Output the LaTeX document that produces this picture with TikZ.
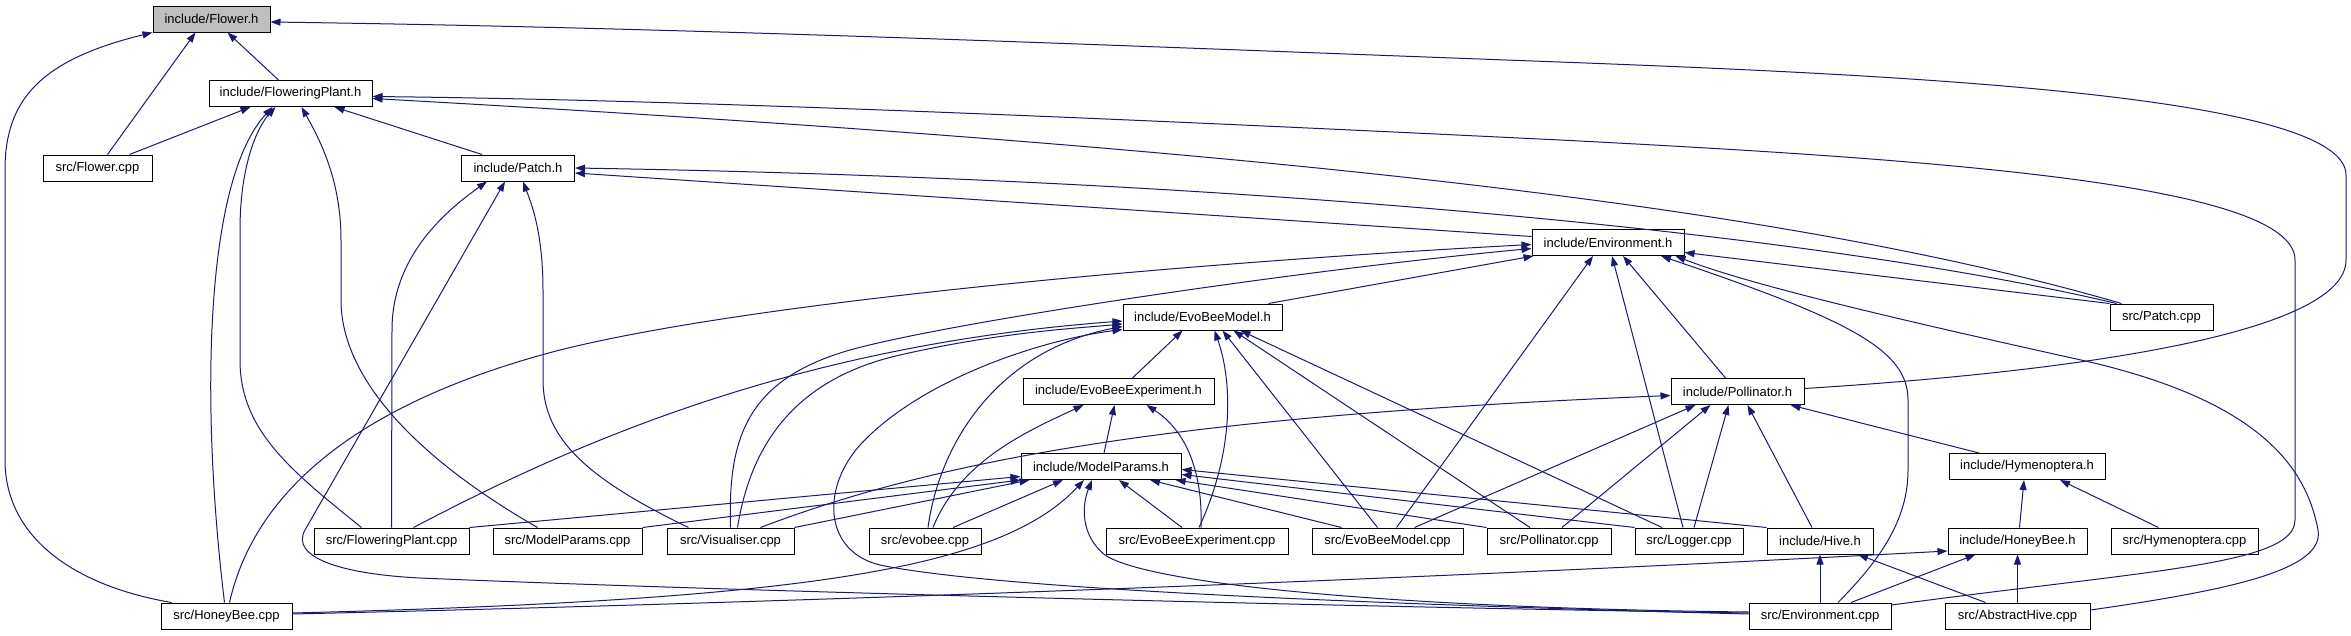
\documentclass[tikz,border=0pt]{standalone}
\usepackage{fontspec}
\setmainfont{Liberation Sans}
\usepackage{tikz}
\usetikzlibrary{arrows.meta}
\definecolor{edgeblue}{HTML}{191970}
\definecolor{rootgrey}{HTML}{BFBFBF}

\begin{document}
\begin{tikzpicture}[
  x=1pt, y=-1pt,
  font=\fontsize{13}{15}\selectfont,
  file/.style={draw, line width=1pt, fill=white, minimum height=26pt, inner sep=0pt},
  dep/.style={draw=edgeblue, line width=1pt, -{Triangle[length=10pt,width=7pt]}},
]
  \useasboundingbox (0,0) rectangle (2351,635);

  % Header files
  \node[file, fill=rootgrey, minimum width=117pt] (flowerh) at (211.5,19) {include/Flower.h};
  \node[file, minimum width=163pt] (floweringplanth) at (290.5,93.5) {include/FloweringPlant.h};
  \node[file, minimum width=113pt] (patchh) at (518,168) {include/Patch.h};
  \node[file, minimum width=152pt] (environmenth) at (1608,242.5) {include/Environment.h};
  \node[file, minimum width=159pt] (evobeemodelh) at (1202.5,317) {include/EvoBeeModel.h};
  \node[file, minimum width=191pt] (evobeeexperimenth) at (1118.5,391.5) {include/EvoBeeExperiment.h};
  \node[file, minimum width=133pt] (pollinatorh) at (1737.5,391.5) {include/Pollinator.h};
  \node[file, minimum width=160pt] (modelparamsh) at (1101,466.5) {include/ModelParams.h};
  \node[file, minimum width=156pt] (hymenopterah) at (2027,466.5) {include/Hymenoptera.h};
  \node[file, minimum width=106pt] (hiveh) at (1820,541) {include/Hive.h};
  \node[file, minimum width=139pt] (honeybeeh) at (2017.5,541) {include/HoneyBee.h};

  % Source files
  \node[file, minimum width=109pt] (flowercpp) at (97.5,168) {src/Flower.cpp};
  \node[file, minimum width=103pt] (patchcpp) at (2161.5,317) {src/Patch.cpp};
  \node[file, minimum width=155pt] (floweringplantcpp) at (391.5,541) {src/FloweringPlant.cpp};
  \node[file, minimum width=149pt] (modelparamscpp) at (567.5,541) {src/ModelParams.cpp};
  \node[file, minimum width=127pt] (visualisercpp) at (730.5,541) {src/Visualiser.cpp};
  \node[file, minimum width=112pt] (evobeecpp) at (925,541) {src/evobee.cpp};
  \node[file, minimum width=182pt] (evobeeexperimentcpp) at (1197,541) {src/EvoBeeExperiment.cpp};
  \node[file, minimum width=151pt] (evobeemodelcpp) at (1387.5,541) {src/EvoBeeModel.cpp};
  \node[file, minimum width=124pt] (pollinatorcpp) at (1549,541) {src/Pollinator.cpp};
  \node[file, minimum width=108pt] (loggercpp) at (1689,541) {src/Logger.cpp};
  \node[file, minimum width=147pt] (hymenopteracpp) at (2184.5,541) {src/Hymenoptera.cpp};
  \node[file, minimum width=131pt] (honeybeecpp) at (226.5,616) {src/HoneyBee.cpp};
  \node[file, minimum width=142pt] (environmentcpp) at (1820,616) {src/Environment.cpp};
  \node[file, minimum width=145pt] (abstracthivecpp) at (2017.5,616) {src/AbstractHive.cpp};

  % Into include/Flower.h
  \draw[dep] ([xshift=-55pt]honeybeecpp.north) .. controls (70,585) and (5,535) .. (5,460) -- (5,170) .. controls (5,100) and (40,60) .. (flowerh.south west);
  \draw[dep] ([xshift=10pt]flowercpp.north) -- ([xshift=-16pt]flowerh.south);
  \draw[dep] ([xshift=-12pt]floweringplanth.north) -- ([xshift=16pt]flowerh.south);
  \draw[dep] ([yshift=3pt]pollinatorh.east) .. controls (2100,370) and (2346,330) .. (2346,260) -- (2346,175) .. controls (2346,95) and (1900,75) .. (1560,62) .. controls (1100,45) and (700,28) .. ([yshift=-3pt]flowerh.east);

  % Into include/FloweringPlant.h
  \draw[dep] ([xshift=32pt]flowercpp.north) -- ([xshift=-40pt]floweringplanth.south);
  \draw[dep] ([xshift=-2pt]honeybeecpp.north) .. controls (200,400) and (205,180) .. ([xshift=-18pt]floweringplanth.south);
  \draw[dep] ([xshift=-30pt]floweringplantcpp.north) .. controls (290,470) and (240,430) .. (240,360) -- (240,230) .. controls (240,170) and (255,130) .. ([xshift=-15pt]floweringplanth.south);
  \draw[dep] ([xshift=-30pt]modelparamscpp.north) .. controls (420,460) and (341,380) .. (341,300) -- (341,240) .. controls (341,180) and (320,140) .. ([xshift=11pt]floweringplanth.south);
  \draw[dep] ([xshift=-36pt]patchh.north) -- ([xshift=44pt]floweringplanth.south);
  \draw[dep] ([xshift=-40pt]patchcpp.north) .. controls (1800,210) and (1300,150) .. ([yshift=-5pt]floweringplanth.east);
  \draw[dep] ([yshift=11pt]environmentcpp.east) .. controls (2150,570) and (2295,565) .. (2295,520) -- (2295,260) .. controls (2295,185) and (1950,160) .. (1560,140) .. controls (1150,120) and (700,100) .. ([yshift=-3pt]floweringplanth.east);

  % Into include/Patch.h
  \draw[dep] (floweringplantcpp.north) -- (392,330) .. controls (392,260) and (440,215) .. ([xshift=-31pt]patchh.south);
  \draw[dep] ([yshift=3pt]environmentcpp.west) .. controls (1300,606) and (700,590) .. (420,578) .. controls (340,574) and (290,557) .. (305,530) -- ([xshift=-13pt]patchh.south);
  \draw[dep] ([xshift=-42pt]visualisercpp.north) .. controls (590,480) and (543,440) .. (543,380) -- (543,290) .. controls (543,230) and (530,200) .. ([xshift=5pt]patchh.south);
  \draw[dep] ([yshift=6pt]environmenth.west) -- ([yshift=-5pt]patchh.east);
  \draw[dep] ([xshift=-45pt]patchcpp.north) .. controls (1850,240) and (1300,180) .. (patchh.east);

  % Into include/Environment.h
  \draw[dep] ([xshift=3pt]honeybeecpp.north) .. controls (255,490) and (360,402) .. (560,350) .. controls (760,300) and (1200,262) .. ([yshift=-2pt]environmenth.west);
  \draw[dep] (visualisercpp.north) .. controls (728,440) and (745,380) .. (850,350) .. controls (950,322) and (1300,270) .. ([yshift=-6pt]environmenth.west);
  \draw[dep] ([xshift=-14pt]evobeemodelh.north east) -- ([xshift=2pt]environmenth.south west);
  \draw[dep] ([xshift=9pt]evobeemodelcpp.north) -- ([xshift=-15pt]environmenth.south);
  \draw[dep] ([xshift=-6pt]loggercpp.north) -- ([xshift=4pt]environmenth.south);
  \draw[dep] ([xshift=-12pt]pollinatorh.north) -- ([xshift=15pt]environmenth.south);
  \draw[dep] ([xshift=18pt]environmentcpp.north) .. controls (1880,560) and (1908,520) .. (1908,470) -- (1908,400) .. controls (1908,350) and (1850,320) .. ([xshift=53pt]environmenth.south);
  \draw[dep] (patchcpp.north west) -- ([yshift=-10pt]environmenth.east);
  \draw[dep] ([yshift=6pt]abstracthivecpp.east) .. controls (2230,590) and (2325,570) .. (2318,530) .. controls (2305,460) and (2250,400) .. (2090,362) .. controls (1900,320) and (1750,285) .. ([xshift=-9pt]environmenth.south east);

  % Into include/EvoBeeModel.h
  \draw[dep] ([xshift=22pt]floweringplantcpp.north) .. controls (580,440) and (800,345) .. ([yshift=-4pt]evobeemodelh.west);
  \draw[dep] ([xshift=7pt]visualisercpp.north) .. controls (750,450) and (790,380) .. (900,355) .. controls (1000,332) and (1080,328) .. ([yshift=-7pt]evobeemodelh.west);
  \draw[dep] ([yshift=2pt]environmentcpp.west) .. controls (1400,605) and (1000,590) .. (880,565) .. controls (825,552) and (820,490) .. (860,445) .. controls (920,380) and (1040,340) .. ([yshift=1pt]evobeemodelh.south west);
  \draw[dep] ([xshift=3pt]evobeecpp.north) .. controls (940,440) and (1000,350) .. ([yshift=4pt]evobeemodelh.south west);
  \draw[dep] ([xshift=14pt]evobeeexperimenth.north) -- ([xshift=-20pt]evobeemodelh.south);
  \draw[dep] ([xshift=2pt]evobeeexperimentcpp.north) .. controls (1235,450) and (1232,380) .. ([xshift=12pt]evobeemodelh.south);
  \draw[dep] ([xshift=-10pt]evobeemodelcpp.north) -- ([xshift=20pt]evobeemodelh.south);
  \draw[dep] ([xshift=-19pt]pollinatorcpp.north) -- ([xshift=31pt]evobeemodelh.south);
  \draw[dep] ([xshift=-27pt]loggercpp.north) -- ([xshift=38pt]evobeemodelh.south);

  % Into include/EvoBeeExperiment.h
  \draw[dep] ([xshift=8pt]evobeecpp.north) .. controls (960,460) and (1030,430) .. ([xshift=-35pt]evobeeexperimenth.south);
  \draw[dep] ([xshift=3pt]modelparamsh.north) -- ([xshift=-4pt]evobeeexperimenth.south);
  \draw[dep] ([xshift=4pt]evobeeexperimentcpp.north) .. controls (1203,470) and (1185,430) .. ([xshift=28pt]evobeeexperimenth.south);

  % Into include/ModelParams.h
  \draw[dep] (floweringplantcpp.north east) -- ([yshift=-10pt]modelparamsh.west);
  \draw[dep] (modelparamscpp.north east) -- (modelparamsh.south west);
  \draw[dep] (visualisercpp.north east) -- ([xshift=9pt]modelparamsh.south west);
  \draw[dep] ([xshift=28pt]evobeecpp.north) -- ([xshift=-38pt]modelparamsh.south);
  \draw[dep] ([yshift=3pt]honeybeecpp.east) .. controls (800,600) and (1000,570) .. ([xshift=-17pt]modelparamsh.south);
  \draw[dep] ([yshift=4pt]environmentcpp.west) .. controls (1400,608) and (1150,585) .. (1105,555) .. controls (1080,535) and (1082,505) .. ([xshift=-9pt]modelparamsh.south);
  \draw[dep] ([xshift=-15pt]evobeeexperimentcpp.north) -- ([xshift=18pt]modelparamsh.south);
  \draw[dep] ([xshift=-46pt]evobeemodelcpp.north) -- ([xshift=49pt]modelparamsh.south);
  \draw[dep] (pollinatorcpp.north west) -- ([xshift=-6pt]modelparamsh.south east);
  \draw[dep] (loggercpp.north west) -- ([yshift=-8pt]modelparamsh.east);
  \draw[dep] (hiveh.north west) -- ([yshift=-3pt]modelparamsh.east);

  % Into include/Pollinator.h
  \draw[dep] ([xshift=30pt]visualisercpp.north) .. controls (950,455) and (1200,415) .. ([yshift=-4pt]pollinatorh.west);
  \draw[dep] ([xshift=27pt]evobeemodelcpp.north) -- ([xshift=-42pt]pollinatorh.south);
  \draw[dep] ([xshift=13pt]pollinatorcpp.north) -- ([xshift=-27pt]pollinatorh.south);
  \draw[dep] ([xshift=5pt]loggercpp.north) -- ([xshift=-9pt]pollinatorh.south);
  \draw[dep] ([xshift=-8pt]hiveh.north) -- ([xshift=10pt]pollinatorh.south);
  \draw[dep] ([xshift=-48pt]hymenopterah.north) -- ([xshift=-14pt]pollinatorh.south east);

  % Into include/Hymenoptera.h and include/HoneyBee.h
  \draw[dep] ([xshift=2pt]honeybeeh.north) -- ([xshift=-3pt]hymenopterah.south);
  \draw[dep] ([xshift=-26pt]hymenopteracpp.north) -- ([xshift=33pt]hymenopterah.south);
  \draw[dep] ([yshift=2pt]honeybeecpp.east) .. controls (900,600) and (1500,575) .. ([yshift=-10pt]honeybeeh.west);
  \draw[dep] ([xshift=31pt]environmentcpp.north) -- ([xshift=-42pt]honeybeeh.south);
  \draw[dep] (abstracthivecpp.north) -- (honeybeeh.south);

  % Into include/Hive.h
  \draw[dep] (environmentcpp.north) -- (hiveh.south);
  \draw[dep] ([xshift=-32pt]abstracthivecpp.north) -- ([xshift=38pt]hiveh.south);
\end{tikzpicture}
\end{document}
